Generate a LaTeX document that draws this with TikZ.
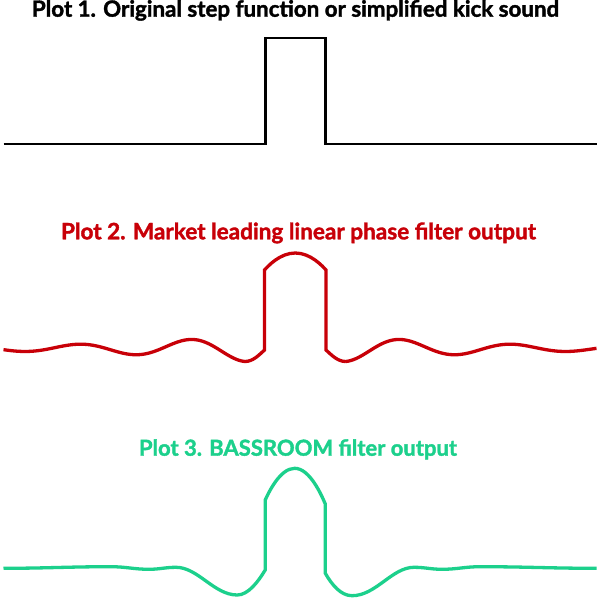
\documentclass[tikz,border=0pt]{standalone}
\usepackage{fontspec}
\setmainfont{Lato}[BoldFeatures={FakeBold=1.6}]
\usepackage{graphicx}
\definecolor{plotred}{RGB}{200,0,8}
\definecolor{plotgreen}{RGB}{28,208,140}
\begin{document}
\begin{tikzpicture}[x=1pt,y=-1pt,
  title/.style={inner sep=0pt,anchor=base,font=\bfseries},
  blackline/.style={draw=black,line width=2.6pt},
  redline/.style={draw=plotred,line width=3.3pt},
  greenline/.style={draw=plotgreen,line width=3.3pt},
  declare function={redf(\t)=348.5+13*exp(-(245-\t)/150)*cos(3.24324*(\t-245));}
]
\useasboundingbox[fill=white] (0,0) rectangle (600,599);

% titles
\node[title,text=black] (t1) at (295.5,16.7) {\resizebox{527pt}{!}{Plot 1. Original step function or simplified kick sound}};
\node[title,text=plotred] (t2) at (298.5,239.3) {\resizebox{475pt}{!}{Plot 2. Market leading linear phase filter output}};
\node[title,text=plotgreen] (t3) at (298,455.7) {\resizebox{318pt}{!}{Plot 3. BASSROOM filter output}};

% plot 1
\draw[blackline] (3.5,144) -- (265.2,144) -- (265.2,38) -- (325.6,38) -- (325.6,144) -- (596.5,144);

% plot 2
\draw[redline]
  plot[domain=3.5:245,samples=120] (\x,{redf(\x)})
  .. controls (253,361.5) and (259,355) .. (264.5,350)
  -- (264.5,270) parabola bend (295.3,253) (326,270)
  -- (326,350)
  .. controls (331.5,355) and (337.6,361.5) .. (345.6,361.5)
  plot[domain=345.6:596.5,samples=120] (\x,{redf(590.6-\x)});

% plot 3
\draw[greenline]
  (3.5,568.3) to[out=0,in=180] (111,566.7) to[out=0,in=180] (149,569.3)
  to[out=0,in=180] (176,567.3)
  .. controls (198,567.3) and (214,595) .. (237.3,595)
  .. controls (248,595) and (258,582) .. (265.2,570)
  -- (265.2,500) parabola bend (294.7,468.3) (325.3,504)
  -- (325.3,573.3)
  .. controls (332,585) and (341,595.7) .. (352,595.7)
  .. controls (376,595.7) and (392,567.3) .. (414,567.3)
  to[out=0,in=180] (442,569.3) to[out=0,in=180] (480,566.7)
  to[out=0,in=180] (596.5,568.3);
\end{tikzpicture}
\end{document}
